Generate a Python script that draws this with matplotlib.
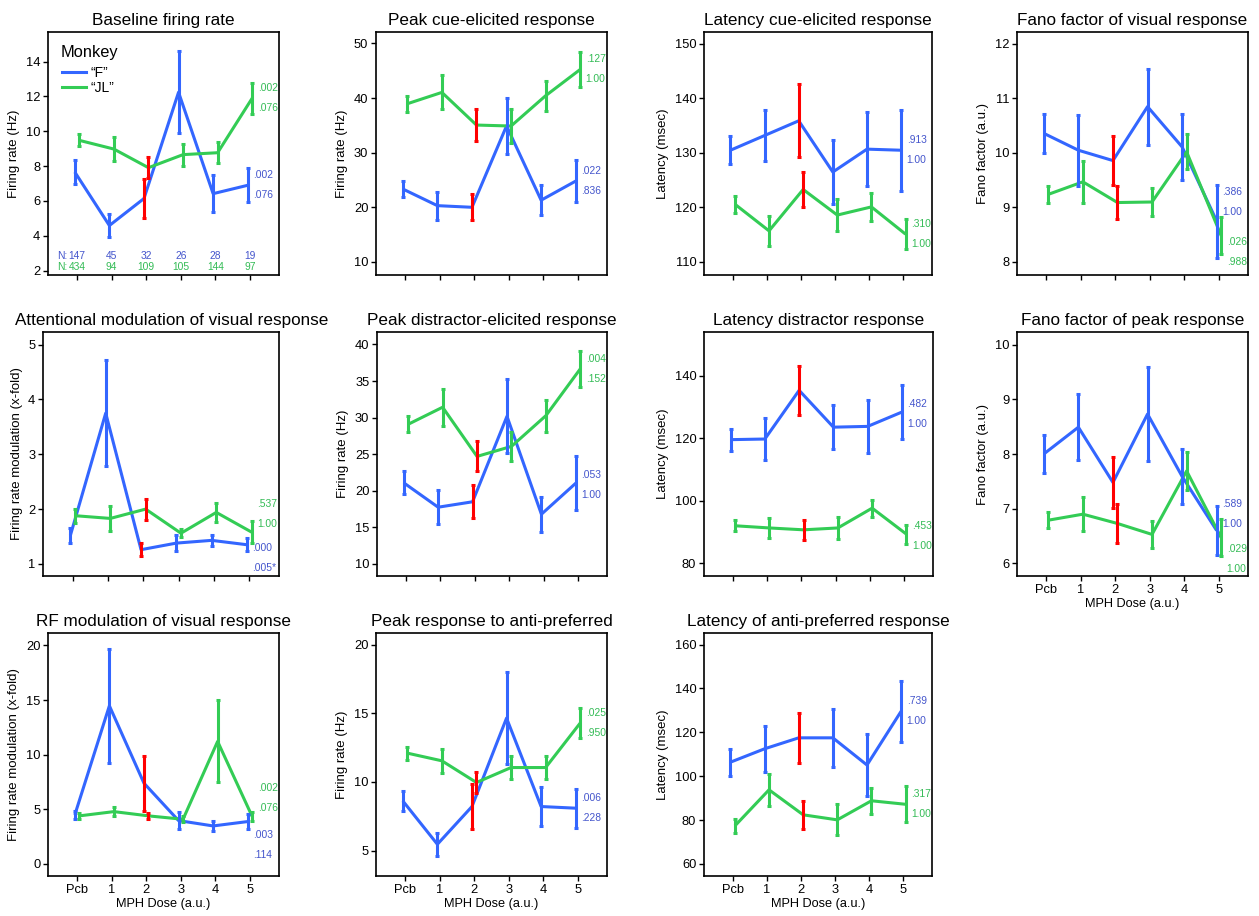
import matplotlib.pyplot as plt
import numpy as np

plt.rcParams["font.family"] = ["Liberation Sans", "DejaVu Sans"]

doses = ["Pcb", "1", "2", "3", "4", "5"]

# 1 baseline firing rate
base_f = [7.66, 4.59, 6.14, 12.24, 6.42, 6.90]
base_f_err = [0.67, 0.67, 1.10, 2.35, 1.07, 0.97]
base_jl = [9.48, 8.98, 7.91, 8.66, 8.77, 11.90]
base_jl_err = [0.34, 0.69, 0.60, 0.63, 0.61, 0.90]
base_f_p = [".002", ".076"]
base_jl_p = [".002", ".076"]
n_f = [147, 45, 32, 26, 28, 19]
n_jl = [434, 94, 109, 105, 144, 97]

# 2 peak cue-elicited response
cue_f = [23.35, 20.3, 20.0, 34.9, 21.3, 24.8]
cue_f_err = [1.5, 2.55, 2.4, 5.05, 2.7, 3.9]
cue_jl = [38.96, 41.04, 35.06, 34.88, 40.43, 45.24]
cue_jl_err = [1.47, 3.1, 2.93, 3.08, 2.75, 3.17]
cue_f_p = [".022", ".836"]
cue_jl_p = [".127", "1.00"]

# 3 latency cue-elicited response
latcue_f = [130.5, 133.2, 135.9, 126.5, 130.7, 130.5]
latcue_f_err = [2.55, 4.7, 6.7, 5.9, 6.85, 7.4]
latcue_jl = [120.6, 115.7, 123.3, 118.6, 120.1, 115.1]
latcue_jl_err = [1.55, 2.8, 3.25, 2.9, 2.5, 2.7]
latcue_f_p = [".913", "1.00"]
latcue_jl_p = [".310", "1.00"]

# 4 fano factor of visual response
fanovis_f = [10.36, 10.05, 9.86, 10.85, 10.11, 8.75]
fanovis_f_err = [0.36, 0.65, 0.45, 0.70, 0.60, 0.67]
fanovis_jl = [9.24, 9.47, 9.09, 9.10, 10.02, 8.48]
fanovis_jl_err = [0.16, 0.39, 0.31, 0.26, 0.32, 0.34]
fanovis_f_p = [".386", "1.00"]
fanovis_jl_p = [".026", ".988"]

# 5 attentional modulation
att_f = [1.52, 3.75, 1.26, 1.38, 1.43, 1.35]
att_f_err = [0.14, 0.97, 0.12, 0.15, 0.10, 0.12]
att_jl = [1.88, 1.83, 2.00, 1.56, 1.94, 1.58]
att_jl_err = [0.125, 0.23, 0.19, 0.07, 0.18, 0.20]
att_f_p = [".000", ".005*"]
att_jl_p = [".537", "1.00"]

# 6 peak distractor-elicited response
dis_f = [21.1, 17.76, 18.5, 30.18, 16.8, 21.05]
dis_f_err = [1.55, 2.3, 2.25, 5.05, 2.4, 3.65]
dis_jl = [29.09, 31.42, 24.7, 26.07, 30.27, 36.67]
dis_jl_err = [1.07, 2.55, 2.05, 2.0, 2.2, 2.5]
dis_f_p = [".053", "1.00"]
dis_jl_p = [".004", ".152"]

# 7 latency distractor response
latdis_f = [119.6, 119.8, 135.4, 123.6, 123.85, 128.45]
latdis_f_err = [3.5, 6.7, 7.9, 7.05, 8.6, 8.55]
latdis_jl = [92.0, 91.3, 90.7, 91.3, 97.65, 89.3]
latdis_jl_err = [1.7, 3.1, 3.3, 3.5, 2.7, 3.0]
latdis_f_p = [".482", "1.00"]
latdis_jl_p = [".453", "1.00"]

# 8 fano factor of peak response
fanopk_f = [8.0, 8.49, 7.48, 8.73, 7.59, 6.6]
fanopk_f_err = [0.34, 0.6, 0.46, 0.86, 0.51, 0.45]
fanopk_jl = [6.79, 6.9, 6.73, 6.53, 7.69, 6.47]
fanopk_jl_err = [0.145, 0.31, 0.36, 0.25, 0.35, 0.34]
fanopk_f_p = [".589", "1.00"]
fanopk_jl_p = [".029", "1.00"]

# 9 RF modulation
rf_f = [4.49, 14.47, 7.39, 3.97, 3.48, 3.88]
rf_f_err = [0.4, 5.2, 2.5, 0.78, 0.43, 0.7]
rf_jl = [4.4, 4.79, 4.4, 4.09, 11.21, 4.34]
rf_jl_err = [0.25, 0.4, 0.28, 0.27, 3.75, 0.37]
rf_f_p = [".003", ".114"]
rf_jl_p = [".002", ".076"]

# 10 peak response to anti-preferred
anti_f = [8.62, 5.46, 8.21, 14.65, 8.21, 8.09]
anti_f_err = [0.75, 0.82, 1.66, 3.35, 1.4, 1.43]
anti_jl = [12.1, 11.54, 9.96, 11.05, 11.05, 14.29]
anti_jl_err = [0.48, 0.88, 0.78, 0.83, 0.83, 1.07]
anti_f_p = [".006", ".228"]
anti_jl_p = [".025", ".950"]

# 11 latency of anti-preferred response
latanti_f = [106.4, 112.5, 117.5, 117.5, 105.1, 129.6]
latanti_f_err = [6.2, 10.5, 11.5, 13.1, 14.3, 13.9]
latanti_jl = [77.35, 93.8, 82.4, 80.1, 88.8, 87.2]
latanti_jl_err = [3.35, 7.3, 6.5, 7.1, 5.9, 8.2]
latanti_f_p = [".739", "1.00"]
latanti_jl_p = [".317", "1.00"]

BLUE = "#3366FF"
GREEN = "#33CC55"
RED = "#FF0000"
BLUE_TXT = "#4455CC"
GREEN_TXT = "#33BB55"

W, H = 1259, 916
fig = plt.figure(figsize=(W / 100, H / 100), dpi=100)


def make_ax(left, top, width, height):
    return fig.add_axes([left / W, 1 - (top + height) / H, width / W, height / H])


def panel(ax, title, ylabel, ylim, yticks, f, f_err, jl, jl_err, f_p, jl_p,
          f_shift=0, jl_shift=0, xlabels=False, title_x=0.5):
    x = np.arange(len(doses))
    for mean, err, col, txtcol, off, pv, shift in [
        (f, f_err, BLUE, BLUE_TXT, -0.065, f_p, f_shift),
        (jl, jl_err, GREEN, GREEN_TXT, 0.065, jl_p, jl_shift),
    ]:
        xs = x + off
        ax.plot(xs, mean, color=col, lw=2.2, zorder=2, solid_capstyle="butt")
        ecol = [RED if d == "2" else col for d in doses]
        for xi, m, e, c in zip(xs, mean, err, ecol):
            ax.errorbar(xi, m, yerr=e, fmt="none", ecolor=c, elinewidth=2.2,
                        capsize=1.7, capthick=2.2, zorder=3 if c == RED else 2.5)
        ax.annotate(pv[0], (xs[-1], mean[-1]), xytext=(4, shift + 7.2),
                    textcoords="offset points", ha="left", va="center",
                    fontsize=7.4, color=txtcol)
        ax.annotate(pv[1], (xs[-1], mean[-1]), xytext=(4, shift - 7.2),
                    textcoords="offset points", ha="left", va="center",
                    fontsize=7.4, color=txtcol)
    ax.set_xlim(-0.84, 5.84)
    ax.set_ylim(*ylim)
    ax.set_yticks(yticks)
    ax.set_xticks(x)
    if xlabels:
        ax.set_xticklabels(doses, fontsize=9.3)
        ax.set_xlabel("MPH Dose (a.u.)", fontsize=9.2, labelpad=2)
    else:
        ax.set_xticklabels([])
    ax.tick_params(axis="both", labelsize=9.3, length=3.5, width=1, pad=2)
    ax.set_ylabel(ylabel, fontsize=9.5, labelpad=4)
    ax.set_title(title, fontsize=12.3, pad=5, x=title_x)
    for s in ax.spines.values():
        s.set_linewidth(1.2)


ax1 = make_ax(48, 32, 231, 243)
panel(ax1, "Baseline firing rate", "Firing rate (Hz)", (1.75, 15.7), [2, 4, 6, 8, 10, 12, 14],
      base_f, base_f_err, base_jl, base_jl_err, base_f_p, base_jl_p)
tr = ax1.get_xaxis_transform()
for i in range(len(doses)):
    ax1.text(i, 0.078, str(n_f[i]), transform=tr, ha="center", va="center", fontsize=7.4, color=BLUE_TXT)
    ax1.text(i, 0.032, str(n_jl[i]), transform=tr, ha="center", va="center", fontsize=7.4, color=GREEN_TXT)
ax1.text(-0.28, 0.078, "N:", transform=tr, ha="right", va="center", fontsize=7.4, color=BLUE_TXT)
ax1.text(-0.28, 0.032, "N:", transform=tr, ha="right", va="center", fontsize=7.4, color=GREEN_TXT)
ax1.text(0.056, 0.947, "Monkey", transform=ax1.transAxes, ha="left", va="top", fontsize=11.8)
h1, = ax1.plot([], [], color=BLUE, lw=2.2)
h2, = ax1.plot([], [], color=GREEN, lw=2.2)
ax1.legend([h1, h2], ["\u201cF\u201d", "\u201cJL\u201d"], loc="upper left",
           bbox_to_anchor=(0.062, 0.862), frameon=False, fontsize=10, handlelength=1.7,
           handletextpad=0.3, labelspacing=0.12, borderaxespad=0, borderpad=0)

ax2 = make_ax(376, 32, 231, 243)
panel(ax2, "Peak cue-elicited response", "Firing rate (Hz)", (7.6, 52.1), [10, 20, 30, 40, 50],
      cue_f, cue_f_err, cue_jl, cue_jl_err, cue_f_p, cue_jl_p)

ax3 = make_ax(704, 32, 228, 243)
panel(ax3, "Latency cue-elicited response", "Latency (msec)", (107.6, 152.2), [110, 120, 130, 140, 150],
      latcue_f, latcue_f_err, latcue_jl, latcue_jl_err, latcue_f_p, latcue_jl_p)

ax4 = make_ax(1017, 32, 231, 243)
panel(ax4, "Fano factor of visual response", "Fano factor (a.u.)", (7.76, 12.22), [8, 9, 10, 11, 12],
      fanovis_f, fanovis_f_err, fanovis_jl, fanovis_jl_err, fanovis_f_p, fanovis_jl_p,
      f_shift=13.4, jl_shift=-11.8)

ax5 = make_ax(43, 332, 236, 244)
panel(ax5, "Attentional modulation of visual response", "Firing rate modulation (x-fold)", (0.78, 5.23),
      [1, 2, 3, 4, 5], att_f, att_f_err, att_jl, att_jl_err, att_f_p, att_jl_p,
      f_shift=-9.9, jl_shift=13.4, title_x=0.545)

ax6 = make_ax(377, 332, 230, 244)
panel(ax6, "Peak distractor-elicited response", "Firing rate (Hz)", (8.36, 41.7), [10, 15, 20, 25, 30, 35, 40],
      dis_f, dis_f_err, dis_jl, dis_jl_err, dis_f_p, dis_jl_p, f_shift=-1.5)

ax7 = make_ax(704, 332, 229, 244)
panel(ax7, "Latency distractor response", "Latency (msec)", (75.9, 154.1), [80, 100, 120, 140],
      latdis_f, latdis_f_err, latdis_jl, latdis_jl_err, latdis_f_p, latdis_jl_p, f_shift=-1.5, jl_shift=-1)

ax8 = make_ax(1017, 332, 231, 244)
panel(ax8, "Fano factor of peak response", "Fano factor (a.u.)", (5.77, 10.23), [6, 7, 8, 9, 10],
      fanopk_f, fanopk_f_err, fanopk_jl, fanopk_jl_err, fanopk_f_p, fanopk_jl_p,
      f_shift=11.8, jl_shift=-15.1, xlabels=True)

ax9 = make_ax(48, 633, 231, 243)
panel(ax9, "RF modulation of visual response", "Firing rate modulation (x-fold)", (-1.1, 21.13),
      [0, 5, 10, 15, 20], rf_f, rf_f_err, rf_jl, rf_jl_err, rf_f_p, rf_jl_p,
      f_shift=-17.1, jl_shift=13, xlabels=True)

ax10 = make_ax(376, 633, 231, 243)
panel(ax10, "Peak response to anti-preferred", "Firing rate (Hz)", (3.15, 20.85), [5, 10, 15, 20],
      anti_f, anti_f_err, anti_jl, anti_jl_err, anti_f_p, anti_jl_p, xlabels=True)

ax11 = make_ax(704, 633, 228, 243)
panel(ax11, "Latency of anti-preferred response", "Latency (msec)", (54.5, 165.3), [60, 80, 100, 120, 140, 160],
      latanti_f, latanti_f_err, latanti_jl, latanti_jl_err, latanti_f_p, latanti_jl_p, xlabels=True)

fig.savefig("out.png", dpi=100)
